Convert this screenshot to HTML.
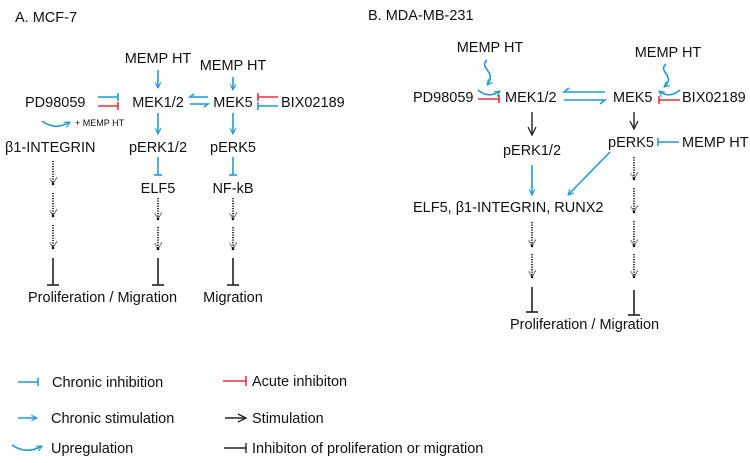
<!DOCTYPE html>
<html><head><meta charset="utf-8"><style>
html,body{margin:0;padding:0;background:#fff}
svg{display:block}
text{font-family:"Liberation Sans",Arial,sans-serif;fill:#111;font-size:14.5px}
</style></head><body>
<svg width="750" height="463" viewBox="0 0 750 463" xmlns="http://www.w3.org/2000/svg">
<defs>
<marker id="ab" viewBox="0 0 10 10" refX="9" refY="5" markerWidth="7" markerHeight="7" orient="auto" markerUnits="userSpaceOnUse"><path d="M1,1 L9,5 L1,9" fill="none" stroke="#1f9ad6" stroke-width="1.6"/></marker>
<marker id="ak" viewBox="0 0 10 10" refX="9" refY="5" markerWidth="10" markerHeight="10" orient="auto" markerUnits="userSpaceOnUse"><path d="M1,1 L9,5 L1,9" fill="none" stroke="#222" stroke-width="1.3"/></marker>
<marker id="ad" viewBox="0 0 10 10" refX="8" refY="5" markerWidth="9" markerHeight="9" orient="auto" markerUnits="userSpaceOnUse"><path d="M1,1 L8,5 L1,9" fill="none" stroke="#222" stroke-width="1.3" stroke-dasharray="1.3,1"/><circle cx="8" cy="5" r="1.4" fill="#111"/></marker>
</defs>

<g fill="none" stroke-width="1.6">
<!-- Panel A -->
<g stroke="#1f9ad6" marker-end="url(#ab)">
<line x1="158" y1="70" x2="158" y2="88"/>
<line x1="233" y1="77" x2="233" y2="90"/>
<line x1="158" y1="113" x2="158" y2="134"/>
<line x1="233" y1="113" x2="233" y2="134"/>
<path d="M42,121 Q55,131 70,122"/>
</g>
<line x1="98" y1="97" x2="118" y2="97" stroke="#1f9ad6"/><line x1="118" y1="93" x2="118" y2="101" stroke="#1f9ad6"/>
<line x1="98" y1="106" x2="118" y2="106" stroke="#e2323a"/><line x1="118" y1="102" x2="118" y2="110" stroke="#e2323a"/>
<line x1="278" y1="97" x2="258" y2="97" stroke="#e2323a"/><line x1="258" y1="93" x2="258" y2="101" stroke="#e2323a"/>
<line x1="278" y1="106" x2="258" y2="106" stroke="#1f9ad6"/><line x1="258" y1="102" x2="258" y2="110" stroke="#1f9ad6"/>
<path d="M208,97 L190,97 L194,94" stroke="#1f9ad6"/>
<path d="M190,104 L208,104 L204,107" stroke="#1f9ad6"/>
<line x1="158" y1="157" x2="158" y2="175" stroke="#1f9ad6"/><line x1="154" y1="175" x2="162" y2="175" stroke="#1f9ad6"/>
<line x1="233" y1="157" x2="233" y2="175" stroke="#1f9ad6"/><line x1="229" y1="175" x2="237" y2="175" stroke="#1f9ad6"/>
<g stroke="#111" stroke-width="1.6" stroke-dasharray="1.3,1.2" marker-end="url(#ad)">
<line x1="53" y1="161" x2="53" y2="184"/><line x1="53" y1="193" x2="53" y2="216"/><line x1="53" y1="225" x2="53" y2="248"/>
<line x1="158" y1="198" x2="158" y2="219"/><line x1="158" y1="227" x2="158" y2="249"/>
<line x1="233" y1="198" x2="233" y2="219"/><line x1="233" y1="227" x2="233" y2="249"/>
</g>
<g stroke="#222" stroke-width="1.6">
<line x1="53" y1="258" x2="53" y2="285"/><line x1="47" y1="285" x2="59" y2="285"/>
<line x1="158" y1="258" x2="158" y2="285"/><line x1="152" y1="285" x2="164" y2="285"/>
<line x1="233" y1="258" x2="233" y2="285"/><line x1="227" y1="285" x2="239" y2="285"/>
</g>

<!-- Panel B -->
<g stroke="#1f9ad6" marker-end="url(#ab)">
<path d="M487,60 C478,68 498,72 487,85"/>
<path d="M666,64 C657,72 677,76 664,87"/>
<path d="M478,90 Q489,99 500,91"/>
<path d="M680,90 Q669,99 659,91"/>
<line x1="532" y1="165" x2="532" y2="195"/>
<line x1="610" y1="152" x2="568" y2="195"/>
</g>
<line x1="478" y1="99" x2="499" y2="99" stroke="#e2323a"/><line x1="499" y1="95" x2="499" y2="103" stroke="#e2323a"/>
<line x1="680" y1="100" x2="659" y2="100" stroke="#e2323a"/><line x1="659" y1="96" x2="659" y2="104" stroke="#e2323a"/>
<path d="M605,92 L564,92 L569,88" stroke="#1f9ad6"/>
<path d="M564,100 L605,100 L600,104" stroke="#1f9ad6"/>
<line x1="679" y1="142" x2="658" y2="142" stroke="#1f9ad6"/><line x1="658" y1="138" x2="658" y2="146" stroke="#1f9ad6"/>
<g stroke="#222" stroke-width="1.4" marker-end="url(#ak)">
<line x1="532" y1="112" x2="532" y2="135"/>
<line x1="634" y1="112" x2="634" y2="129"/>
</g>
<g stroke="#111" stroke-width="1.6" stroke-dasharray="1.3,1.2" marker-end="url(#ad)">
<line x1="634" y1="157" x2="634" y2="179"/><line x1="634" y1="188" x2="634" y2="212"/><line x1="634" y1="221" x2="634" y2="246"/><line x1="634" y1="254" x2="634" y2="277"/>
<line x1="532" y1="222" x2="532" y2="246"/><line x1="532" y1="254" x2="532" y2="277"/>
</g>
<g stroke="#222" stroke-width="1.6">
<line x1="532" y1="287" x2="532" y2="312"/><line x1="526" y1="312" x2="538" y2="312"/>
<line x1="634" y1="290" x2="634" y2="315"/><line x1="628" y1="315" x2="640" y2="315"/>
</g>

<!-- Legend -->
<line x1="18" y1="382" x2="38" y2="382" stroke="#1f9ad6"/><line x1="38" y1="378" x2="38" y2="386" stroke="#1f9ad6"/>
<line x1="223" y1="381" x2="246" y2="381" stroke="#e2323a"/><line x1="246" y1="376" x2="246" y2="386" stroke="#e2323a"/>
<line x1="18" y1="418" x2="37" y2="418" stroke="#1f9ad6" marker-end="url(#ab)"/>
<line x1="225" y1="418" x2="246" y2="418" stroke="#222" stroke-width="1.4" marker-end="url(#ak)"/>
<path d="M12,445 Q26,455 42,446" stroke="#1f9ad6" marker-end="url(#ab)"/>
<line x1="224" y1="448" x2="246" y2="448" stroke="#222" stroke-width="1.4"/><line x1="246" y1="443" x2="246" y2="453" stroke="#222" stroke-width="1.4"/>
</g>

<text x="15" y="22">A. MCF-7</text>
<text x="158" y="63" text-anchor="middle">MEMP HT</text>
<text x="233" y="70" text-anchor="middle">MEMP HT</text>
<text x="25" y="107">PD98059</text>
<text x="158" y="107" text-anchor="middle">MEK1/2</text>
<text x="233" y="107" text-anchor="middle">MEK5</text>
<text x="281" y="107">BIX02189</text>
<text x="75" y="126" style="font-size:9px">+ MEMP HT</text>
<text x="5" y="152">β1-INTEGRIN</text>
<text x="158" y="152" text-anchor="middle">pERK1/2</text>
<text x="233" y="152" text-anchor="middle">pERK5</text>
<text x="158" y="193" text-anchor="middle">ELF5</text>
<text x="233" y="193" text-anchor="middle">NF-kB</text>
<text x="28" y="302">Proliferation / Migration</text>
<text x="233" y="302" text-anchor="middle">Migration</text>

<text x="368" y="20">B. MDA-MB-231</text>
<text x="490" y="52" text-anchor="middle">MEMP HT</text>
<text x="668" y="57" text-anchor="middle">MEMP HT</text>
<text x="413" y="102">PD98059</text>
<text x="505" y="102">MEK1/2</text>
<text x="613" y="102">MEK5</text>
<text x="682" y="102">BIX02189</text>
<text x="532" y="155" text-anchor="middle">pERK1/2</text>
<text x="608" y="147">pERK5</text>
<text x="682" y="147">MEMP HT</text>
<text x="413" y="212">ELF5, β1-INTEGRIN, RUNX2</text>
<text x="510" y="329">Proliferation / Migration</text>

<text x="52" y="387">Chronic inhibition</text>
<text x="252" y="386">Acute inhibiton</text>
<text x="51" y="423">Chronic stimulation</text>
<text x="252" y="423">Stimulation</text>
<text x="51" y="453">Upregulation</text>
<text x="252" y="453">Inhibiton of proliferation or migration</text>
</svg>
</body></html>
